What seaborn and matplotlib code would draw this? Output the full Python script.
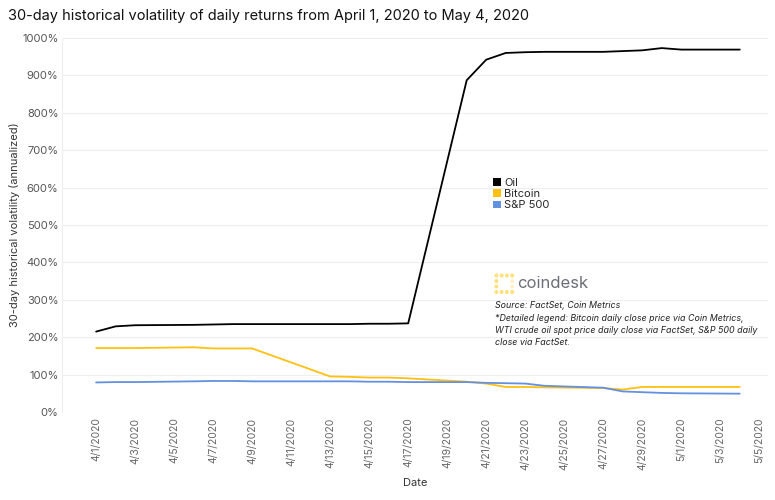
import pandas as pd
import seaborn as sns
import matplotlib.pyplot as plt
from matplotlib.patches import Patch, Ellipse

# business days in the window (Good Friday 4/10 closed)
dates = ['2020-04-01', '2020-04-02', '2020-04-03', '2020-04-06', '2020-04-07', '2020-04-08',
         '2020-04-09', '2020-04-13', '2020-04-14', '2020-04-15', '2020-04-16', '2020-04-17',
         '2020-04-20', '2020-04-21', '2020-04-22', '2020-04-23', '2020-04-24', '2020-04-27',
         '2020-04-28', '2020-04-29', '2020-04-30', '2020-05-01', '2020-05-04']

oil = [215, 229, 232, 233, 234, 235, 235, 235, 235, 236, 236, 237,
       887, 942, 960, 962, 963, 963, 965, 967, 973, 969, 969]
bitcoin = [171, 171, 171, 173, 170, 170, 170, 95, 94, 92, 92, 90,
           81, 76, 67, 67, 66, 64, 60, 67, 67, 67, 67]
sp500 = [79, 80, 80, 82, 83, 83, 82, 82, 82, 81, 81, 80,
         80, 78, 77, 76, 70, 65, 55, 53, 51, 50, 49]

series_names = ['Oil', 'Bitcoin', 'S&P 500']
colors = ['#000000', '#FFC012', '#6490E0']

df = pd.DataFrame({'Date': pd.to_datetime(dates), 'Oil': oil, 'Bitcoin': bitcoin, 'S&P 500': sp500})
long_df = df.melt(id_vars='Date', var_name='Series', value_name='Vol')

sns.set_theme(style='white')
plt.rcParams['font.family'] = ['Inter', 'DejaVu Sans']

fig = plt.figure(figsize=(7.75, 5), dpi=100)
ax = fig.add_axes([0.08, 0.176, 0.911, 0.748])

sns.lineplot(data=long_df, x='Date', y='Vol', hue='Series', hue_order=series_names,
             palette=dict(zip(series_names, colors)), linewidth=1.3, ax=ax, legend=False)

ax.set_ylim(0, 1000)
ax.set_yticks(range(0, 1001, 100))
ax.set_yticklabels([f'{v}%' for v in range(0, 1001, 100)], fontsize=8, color='#555555')
ax.yaxis.grid(True, color='#eeeeee', linewidth=0.8)

xt = pd.date_range('2020-04-01', '2020-05-05', freq='2D')
ax.set_xticks(xt)
ax.set_xticklabels([f'{d.month}/{d.day}/{d.year}' for d in xt], rotation=90,
                   fontsize=7.5, color='#666666')
ax.set_xlim(pd.Timestamp('2020-04-01') - pd.Timedelta(days=1.75),
            pd.Timestamp('2020-05-05') + pd.Timedelta(days=0.45))
ax.tick_params(axis='y', length=0, pad=2.5)
ax.tick_params(axis='x', length=0, pad=4)

for s in ['top', 'right', 'bottom']:
    ax.spines[s].set_visible(False)
ax.spines['left'].set_color('#eeeeee')
ax.spines['left'].set_linewidth(0.8)

ax.set_xlabel('Date', fontsize=8, color='#333333', labelpad=6)
ax.set_ylabel('30-day historical volatility (annualized)', fontsize=8, color='#333333')
ax.yaxis.set_label_coords(-0.059, 0.5)

fig.text(0.01, 0.968, '30-day historical volatility of daily returns from April 1, 2020 to May 4, 2020',
         fontsize=10.5, color='#111111', va='center')

handles = [Patch(facecolor=c, edgecolor='none') for c in colors]
ax.legend(handles, series_names, loc='upper left', bbox_to_anchor=(0.604, 0.638),
          frameon=False, fontsize=8, handlelength=0.7, handleheight=0.7,
          handletextpad=0.3, labelspacing=0.12, borderaxespad=0)

# coindesk mark: dotted bracket
for i in range(4):
    for j in range(4):
        if i == 0 or j in (0, 3):
            a = 1.0
        elif i == 3:
            a = 0.45
        else:
            continue
        fig.patches.append(Ellipse((0.6405 + i * 0.0068, 0.449 - j * 0.011),
                                   4.0 / 775, 4.0 / 500, transform=fig.transFigure,
                                   facecolor='#FFE07A', alpha=a, edgecolor='none'))
fig.text(0.667, 0.433, 'coindesk', fontsize=12, color='#6b6f78', va='center')

fig.text(0.639, 0.397, 'Source: FactSet, Coin Metrics\n'
         '*Detailed legend: Bitcoin daily close price via Coin Metrics,\n'
         'WTI crude oil spot price daily close via FactSet, S&P 500 daily\n'
         'close via FactSet.', fontsize=6.4, style='italic', color='#222222',
         va='top', linespacing=1.45)

fig.savefig('out.png', dpi=100)
